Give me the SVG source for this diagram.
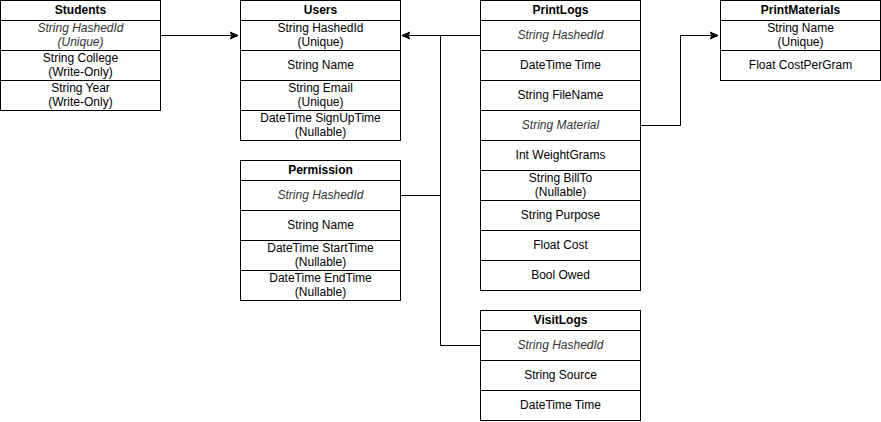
<svg xmlns="http://www.w3.org/2000/svg" width="881" height="422" viewBox="0 0 881 422">
<style>
rect{fill:#fff;stroke:#000;stroke-width:1}
text{font-family:"Liberation Sans",Arial,sans-serif;font-size:12px;text-anchor:middle;fill:#000}
.h{font-weight:bold}
.i{font-style:italic;fill:#333}
.c{fill:none;stroke:#000;stroke-width:1}
</style>
<defs>
<marker id="a" markerWidth="10" markerHeight="10" refX="8" refY="5" orient="auto" markerUnits="userSpaceOnUse">
<path d="M0,1.5 L8,5 L0,8.5 L2,5 Z" fill="#000" stroke="#000" stroke-width="1"/>
</marker>
</defs>
<g id="connectors">
<path class="c" d="M160.5,35.5 H238" marker-end="url(#a)"/>
<path class="c" d="M480.5,35.5 H402" marker-end="url(#a)"/>
<path class="c" d="M400.5,195.5 H440.5 V35.5"/>
<path class="c" d="M480.5,345.5 H440.5 V35.5"/>
<path class="c" d="M640.5,125.5 H680.5 V35.5 H718" marker-end="url(#a)"/>
</g>
<g id="Students">
<rect x="0.5" y="0.5" width="160" height="20"/>
<rect x="0.5" y="20.5" width="160" height="30"/>
<rect x="0.5" y="50.5" width="160" height="30"/>
<rect x="0.5" y="80.5" width="160" height="30"/>
<text class="h" x="80.5" y="14">Students</text>
<text class="i" x="80.5" y="32">String HashedId</text>
<text class="i" x="80.5" y="46">(Unique)</text>
<text x="80.5" y="62">String College</text>
<text x="80.5" y="76">(Write-Only)</text>
<text x="80.5" y="92">String Year</text>
<text x="80.5" y="106">(Write-Only)</text>
</g>
<g id="Users">
<rect x="240.5" y="0.5" width="160" height="20"/>
<rect x="240.5" y="20.5" width="160" height="30"/>
<rect x="240.5" y="50.5" width="160" height="30"/>
<rect x="240.5" y="80.5" width="160" height="30"/>
<rect x="240.5" y="110.5" width="160" height="30"/>
<text class="h" x="320.5" y="14">Users</text>
<text x="320.5" y="32">String HashedId</text>
<text x="320.5" y="46">(Unique)</text>
<text x="320.5" y="69">String Name</text>
<text x="320.5" y="92">String Email</text>
<text x="320.5" y="106">(Unique)</text>
<text x="320.5" y="122">DateTime SignUpTime</text>
<text x="320.5" y="136">(Nullable)</text>
</g>
<g id="Permission">
<rect x="240.5" y="160.5" width="160" height="20"/>
<rect x="240.5" y="180.5" width="160" height="30"/>
<rect x="240.5" y="210.5" width="160" height="30"/>
<rect x="240.5" y="240.5" width="160" height="30"/>
<rect x="240.5" y="270.5" width="160" height="30"/>
<text class="h" x="320.5" y="174">Permission</text>
<text class="i" x="320.5" y="199">String HashedId</text>
<text x="320.5" y="229">String Name</text>
<text x="320.5" y="252">DateTime StartTime</text>
<text x="320.5" y="266">(Nullable)</text>
<text x="320.5" y="282">DateTime EndTime</text>
<text x="320.5" y="296">(Nullable)</text>
</g>
<g id="PrintLogs">
<rect x="480.5" y="0.5" width="160" height="20"/>
<rect x="480.5" y="20.5" width="160" height="30"/>
<rect x="480.5" y="50.5" width="160" height="30"/>
<rect x="480.5" y="80.5" width="160" height="30"/>
<rect x="480.5" y="110.5" width="160" height="30"/>
<rect x="480.5" y="140.5" width="160" height="30"/>
<rect x="480.5" y="170.5" width="160" height="30"/>
<rect x="480.5" y="200.5" width="160" height="30"/>
<rect x="480.5" y="230.5" width="160" height="30"/>
<rect x="480.5" y="260.5" width="160" height="30"/>
<text class="h" x="560.5" y="14">PrintLogs</text>
<text class="i" x="560.5" y="39">String HashedId</text>
<text x="560.5" y="69">DateTime Time</text>
<text x="560.5" y="99">String FileName</text>
<text class="i" x="560.5" y="129">String Material</text>
<text x="560.5" y="159">Int WeightGrams</text>
<text x="560.5" y="182">String BillTo</text>
<text x="560.5" y="196">(Nullable)</text>
<text x="560.5" y="219">String Purpose</text>
<text x="560.5" y="249">Float Cost</text>
<text x="560.5" y="279">Bool Owed</text>
</g>
<g id="PrintMaterials">
<rect x="720.5" y="0.5" width="160" height="20"/>
<rect x="720.5" y="20.5" width="160" height="30"/>
<rect x="720.5" y="50.5" width="160" height="30"/>
<text class="h" x="800.5" y="14">PrintMaterials</text>
<text x="800.5" y="32">String Name</text>
<text x="800.5" y="46">(Unique)</text>
<text x="800.5" y="69">Float CostPerGram</text>
</g>
<g id="VisitLogs">
<rect x="480.5" y="310.5" width="160" height="20"/>
<rect x="480.5" y="330.5" width="160" height="30"/>
<rect x="480.5" y="360.5" width="160" height="30"/>
<rect x="480.5" y="390.5" width="160" height="30"/>
<text class="h" x="560.5" y="324">VisitLogs</text>
<text class="i" x="560.5" y="349">String HashedId</text>
<text x="560.5" y="379">String Source</text>
<text x="560.5" y="409">DateTime Time</text>
</g>
</svg>
